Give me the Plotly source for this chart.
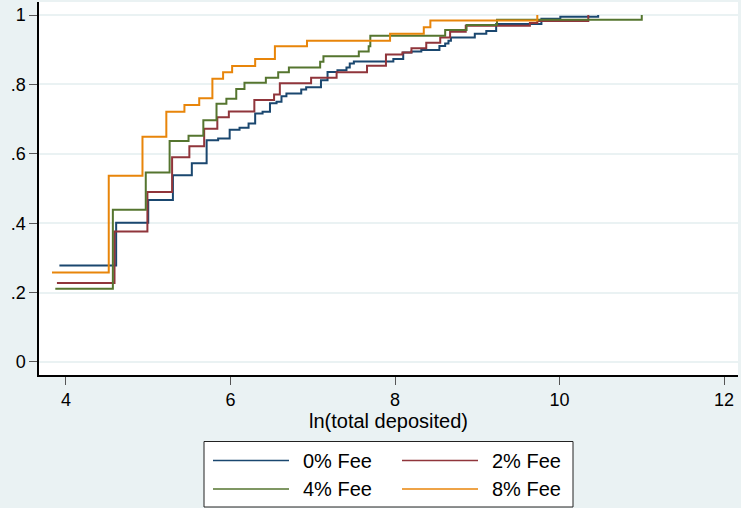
import plotly.graph_objects as go

series_names = ["0% Fee", "2% Fee", "4% Fee", "8% Fee"]
series_colors = ["#1A476F", "#90353B", "#55752F", "#E8850A"]

fee0_x = [3.92, 4.61, 5.00, 5.30, 5.53, 5.71, 5.85, 5.99, 6.11, 6.22, 6.30, 6.39, 6.48,
          6.56, 6.62, 6.68, 6.86, 6.92, 7.10, 7.18, 7.30, 7.41, 7.45, 7.50, 7.98, 8.10,
          8.20, 8.32, 8.54, 8.61, 8.65, 8.68, 8.97, 9.11, 9.23, 9.78, 10.01, 10.47]
fee0_y = [0.278, 0.401, 0.467, 0.538, 0.573, 0.639, 0.644, 0.669, 0.675, 0.687, 0.716,
          0.721, 0.746, 0.750, 0.766, 0.774, 0.785, 0.792, 0.812, 0.836, 0.841, 0.849,
          0.860, 0.866, 0.873, 0.892, 0.895, 0.899, 0.911, 0.918, 0.926, 0.935, 0.946,
          0.954, 0.974, 0.989, 0.995, 1.000]

fee2_x = [3.89, 4.59, 4.99, 5.29, 5.50, 5.68, 5.84, 5.98, 6.29, 6.53, 6.60, 6.98, 7.29,
          7.66, 7.89, 8.09, 8.20, 8.38, 8.55, 8.67, 8.86, 9.64, 9.73, 10.35]
fee2_y = [0.228, 0.376, 0.490, 0.590, 0.622, 0.672, 0.705, 0.722, 0.755, 0.771, 0.803,
          0.819, 0.835, 0.854, 0.886, 0.892, 0.904, 0.920, 0.935, 0.952, 0.969, 0.977,
          0.983, 1.000]

fee4_x = [3.87, 4.57, 4.97, 5.26, 5.49, 5.67, 5.83, 5.95, 6.07, 6.17, 6.43, 6.58, 6.71,
          7.09, 7.13, 7.56, 7.68, 7.70, 8.61, 8.87, 9.24, 11.00]
fee4_y = [0.211, 0.439, 0.546, 0.637, 0.652, 0.697, 0.744, 0.759, 0.787, 0.805, 0.819,
          0.835, 0.849, 0.865, 0.881, 0.895, 0.910, 0.940, 0.957, 0.971, 0.986, 1.000]

fee8_x = [3.83, 4.52, 4.93, 5.22, 5.44, 5.62, 5.78, 5.91, 6.02, 6.30, 6.54, 6.93, 7.94,
          8.35, 8.43, 9.73]
fee8_y = [0.258, 0.537, 0.649, 0.721, 0.741, 0.760, 0.816, 0.835, 0.853, 0.873, 0.910,
          0.926, 0.946, 0.965, 0.984, 1.000]

xs = [fee0_x, fee2_x, fee4_x, fee8_x]
ys = [fee0_y, fee2_y, fee4_y, fee8_y]

x_ticks = [4, 6, 8, 10, 12]
y_ticks = [0, 0.2, 0.4, 0.6, 0.8, 1]
y_tick_labels = ["0", ".2", ".4", ".6", ".8", "1"]
x_title = "ln(total deposited)"

# ---------------- figure ----------------
W, H = 741, 508
ML, MR, MT, MB = 39, 3, 2, 133
BG = "#EAF2F3"
FONT = "Liberation Sans, Arial, sans-serif"

fig = go.Figure()
for name, color, x, y in zip(series_names, series_colors, xs, ys):
    fig.add_trace(go.Scatter(x=x, y=y, mode="lines", name=name,
                             line=dict(color=color, width=2, shape="hv"),
                             showlegend=False))

# legend drawn in pixel layout, converted to paper coordinates
pw, ph = W - ML - MR, H - MT - MB
def px(xp):
    return (xp - ML) / pw
def py(yp):
    return (H - MB - yp) / ph

shapes = [dict(type="rect", xref="paper", yref="paper",
               x0=px(204), x1=px(573), y0=py(441.5), y1=py(507),
               line=dict(color="#222222", width=1), fillcolor="white", layer="above")]
annotations = []
rows = [460.5, 489]
line_x = [(213, 289), (402, 478)]
text_x = [301, 490]
for i, (name, color) in enumerate(zip(series_names, series_colors)):
    r, c = divmod(i, 2)
    shapes.append(dict(type="line", xref="paper", yref="paper",
                       x0=px(line_x[c][0]), x1=px(line_x[c][1]),
                       y0=py(rows[r]), y1=py(rows[r]),
                       line=dict(color=color, width=1.5), layer="above"))
    annotations.append(dict(xref="paper", yref="paper", x=px(text_x[c]), y=py(rows[r]),
                            text=name, showarrow=False, xanchor="left", yanchor="middle",
                            font=dict(family=FONT, size=20, color="black")))

fig.update_layout(
    width=W, height=H, autosize=False,
    margin=dict(l=ML, r=MR, t=MT, b=MB, autoexpand=False),
    paper_bgcolor=BG, plot_bgcolor="white",
    font=dict(family=FONT, color="black"),
    shapes=shapes, annotations=annotations,
    showlegend=False,
)
fig.update_xaxes(range=[3.672, 12.170], tickvals=x_ticks, ticks="outside", ticklen=8,
                 tickcolor="#555555", tickwidth=1.2, showline=True, linecolor="black",
                 linewidth=1.5, showgrid=False, zeroline=False, automargin=False,
                 tickfont=dict(family=FONT, size=18, color="black"),
                 title=dict(text=x_title, font=dict(family=FONT, size=20, color="black"),
                            standoff=2))
fig.update_yaxes(range=[-0.0375, 1.0375], tickvals=y_ticks, ticktext=y_tick_labels,
                 ticks="outside", ticklen=8, tickcolor="#555555", tickwidth=1.2,
                 showline=True, linecolor="black", linewidth=1.5, showgrid=True,
                 gridcolor=BG, gridwidth=2, zeroline=False, automargin=False,
                 tickfont=dict(family=FONT, size=18, color="black"))

fig.write_html("out.html",
               config={"displayModeBar": False},
               post_script="document.body.style.margin='0px';"
                           "document.body.style.background='#EAF2F3';")
